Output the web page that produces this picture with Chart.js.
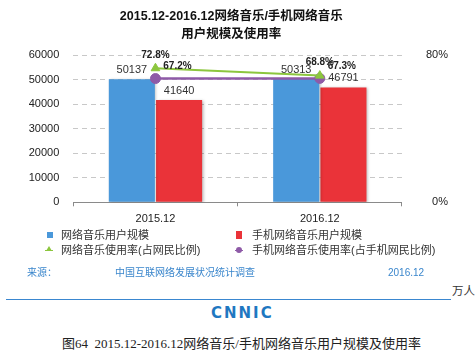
<!DOCTYPE html>
<html>
<head>
<meta charset="utf-8">
<script src="https://cdn.jsdelivr.net/npm/chart.js@4/dist/chart.umd.min.js"></script>
<style>
  html, body { margin: 0; padding: 0; background: #ffffff; }
  #wrap { position: relative; width: 476px; height: 356px; overflow: hidden; background: #fff;
          font-family: "Liberation Sans", "Noto Sans CJK SC", sans-serif; }
  #chart { position: absolute; left: 0; top: 0; }
  .abs { position: absolute; white-space: nowrap; line-height: 1; }
  .leg { font-size: 11px; color: #333; }
  .src { font-size: 10px; color: #3a86cc; }
  .mk { position: absolute; }
</style>
</head>
<body>
<div id="wrap">
  <canvas id="chart" width="476" height="234"></canvas>

  <!-- legend -->
  <div class="mk" style="left:47px;top:232px;width:6px;height:6px;background:#4a98da;"></div>
  <div class="abs leg" style="left:61px;top:229.5px;">网络音乐用户规模</div>
  <div class="mk" style="left:236px;top:231px;width:6px;height:8px;background:#ea3339;"></div>
  <div class="abs leg" style="left:252px;top:229.5px;">手机网络音乐用户规模</div>
  <div class="mk" style="left:45px;top:250px;width:8px;height:1px;background:#8cc63e;"></div>
  <div class="mk" style="left:46px;top:246px;width:0;height:0;border-left:3px solid transparent;border-right:3px solid transparent;border-bottom:5px solid #8cc63e;"></div>
  <div class="abs leg" style="left:61px;top:244.5px;">网络音乐使用率(占网民比例)</div>
  <div class="mk" style="left:235px;top:250px;width:8px;height:1px;background:#8e5aa7;"></div>
  <div class="mk" style="left:236px;top:247px;width:6px;height:6px;border-radius:3px;background:#8e5aa7;"></div>
  <div class="abs leg" style="left:252px;top:244.5px;">手机网络音乐使用率(占手机网民比例)</div>

  <!-- source -->
  <div class="abs src" style="left:27px;top:268px;">来源：</div>
  <div class="abs src" style="left:115px;top:268px;">中国互联网络发展状况统计调查</div>
  <div class="abs src" style="left:388px;top:268px;">2016.12</div>

  <div class="mk" style="left:6px;top:299px;width:445px;height:1px;background:#3a87d0;"></div>
  <div class="abs" style="left:452px;top:286px;font-size:11.5px;color:#333;">万人</div>

  <div class="abs" style="left:211px;top:306px;font-family:'DejaVu Sans',sans-serif;font-weight:bold;font-size:15px;letter-spacing:2px;color:#1f78c1;">CNNIC</div>

  <div class="abs" style="left:62px;top:337px;font-size:13px;color:#222;font-family:'Liberation Serif','Noto Sans CJK SC',serif;">图64&nbsp;&nbsp;2015.12-2016.12网络音乐/手机网络音乐用户规模及使用率</div>
</div>

<script>
// ---- data ----
const categories = ['2015.12', '2016.12'];
const musicUsers = [50137, 50313];          // 网络音乐用户规模 (万人)
const mobileMusicUsers = [41640, 46791];    // 手机网络音乐用户规模 (万人)
const musicRate = [72.8, 68.8];             // 网络音乐使用率 (%)
const mobileMusicRate = [67.2, 67.3];       // 手机网络音乐使用率 (%)
const leftTickValues = [0, 10000, 20000, 30000, 40000, 50000, 60000];
const rightTickValues = [0, 80];
const titleLines = ['2015.12-2016.12网络音乐/手机网络音乐', '用户规模及使用率'];

const labelPlugin = {
  id: 'valueLabels',
  afterDatasetsDraw(chart) {
    const ctx = chart.ctx;
    chart.data.datasets.forEach((ds, i) => {
      const meta = chart.getDatasetMeta(i);
      if (meta.hidden) return;
      const cfg = ds.labelCfg;
      if (!cfg) return;
      meta.data.forEach((el, j) => {
        const v = ds.data[j];
        const txt = cfg.fmt(v);
        ctx.save();
        ctx.font = cfg.font;
        ctx.fillStyle = cfg.color;
        ctx.textAlign = 'center';
        ctx.textBaseline = 'middle';
        ctx.fillText(txt, el.x + cfg.dx, el.y + cfg.dy);
        ctx.restore();
      });
    });
  }
};

const shadowPlugin = {
  id: 'barShadow',
  beforeDatasetDraw(chart, args) {
    if (chart.data.datasets[args.index].type === 'bar') {
      const ctx = chart.ctx;
      ctx.save();
      ctx.shadowColor = 'rgba(0,0,0,0.28)';
      ctx.shadowBlur = 3;
      ctx.shadowOffsetX = 1.5;
      ctx.shadowOffsetY = 1;
    }
  },
  afterDatasetDraw(chart, args) {
    if (chart.data.datasets[args.index].type === 'bar') {
      chart.ctx.restore();
    }
  }
};

const gridDash = [5, 4];

new Chart(document.getElementById('chart'), {
  data: {
    labels: categories,
    datasets: [
      {
        type: 'line', label: '网络音乐使用率(占网民比例)', data: musicRate, yAxisID: 'y1', order: 0,
        borderColor: '#8cc63e', backgroundColor: '#8cc63e', borderWidth: 2,
        pointStyle: 'triangle', pointRadius: 5, pointBorderWidth: 1,
        labelCfg: { fmt: v => v.toFixed(1) + '%', font: 'bold 10px "Liberation Sans", sans-serif', color: '#222', dx: 0, dy: -13 }
      },
      {
        type: 'line', label: '手机网络音乐使用率(占手机网民比例)', data: mobileMusicRate, yAxisID: 'y1', order: 0,
        borderColor: '#8e5aa7', backgroundColor: '#8e5aa7', borderWidth: 2.5,
        pointStyle: 'circle', pointRadius: 5, pointBorderWidth: 1,
        labelCfg: { fmt: v => v.toFixed(1) + '%', font: 'bold 10px "Liberation Sans", sans-serif', color: '#222', dx: 22, dy: -12 }
      },
      {
        type: 'bar', label: '网络音乐用户规模', data: musicUsers, yAxisID: 'y', order: 1,
        backgroundColor: '#4a98da', borderWidth: 0,
        categoryPercentage: 0.575, barPercentage: 0.975,
        labelCfg: { fmt: v => String(v), font: '11px "Liberation Sans", sans-serif', color: '#333', dx: 0, dy: -9 }
      },
      {
        type: 'bar', label: '手机网络音乐用户规模', data: mobileMusicUsers, yAxisID: 'y', order: 1,
        backgroundColor: '#ea3339', borderWidth: 0,
        categoryPercentage: 0.575, barPercentage: 0.975,
        labelCfg: { fmt: v => String(v), font: '11px "Liberation Sans", sans-serif', color: '#333', dx: 0, dy: -9 }
      }
    ]
  },
  options: {
    responsive: false,
    devicePixelRatio: 1,
    animation: false,
    layout: { padding: { left: 14.7, right: 28, top: 0, bottom: 2.5 } },
    plugins: {
      legend: { display: false },
      tooltip: { enabled: false },
      title: {
        display: true,
        text: titleLines,
        color: '#111',
        font: { family: '"Liberation Sans", "Noto Sans CJK SC", sans-serif', size: 12.5, weight: 'bold', lineHeight: 1.48 },
        padding: { top: 7, bottom: 11 }
      }
    },
    scales: {
      x: {
        type: 'category',
        offset: true,
        grid: { display: true, offset: true, drawOnChartArea: false, drawTicks: true, tickLength: 4, color: '#8a8a8a' },
        border: { display: true, color: '#8a8a8a', width: 1 },
        ticks: { color: '#222', padding: 6, font: { family: '"Liberation Sans", sans-serif', size: 11 } }
      },
      y: {
        position: 'left',
        min: 0, max: 60000,
        afterBuildTicks: s => { s.ticks = leftTickValues.map(v => ({ value: v })); },
        grid: { color: '#c8c8c8', drawTicks: false },
        border: { display: false, dash: gridDash },
        ticks: { color: '#222', padding: 14, callback: v => String(v), font: { family: '"Liberation Sans", sans-serif', size: 11 } }
      },
      y1: {
        position: 'right',
        min: 0, max: 80,
        afterBuildTicks: s => { s.ticks = rightTickValues.map(v => ({ value: v })); },
        grid: { drawOnChartArea: false, drawTicks: false },
        border: { display: false },
        ticks: { color: '#222', padding: 12, crossAlign: 'far', callback: v => v + '%', font: { family: '"Liberation Sans", sans-serif', size: 11 } }
      }
    }
  },
  plugins: [shadowPlugin, labelPlugin]
});
</script>
</body>
</html>
